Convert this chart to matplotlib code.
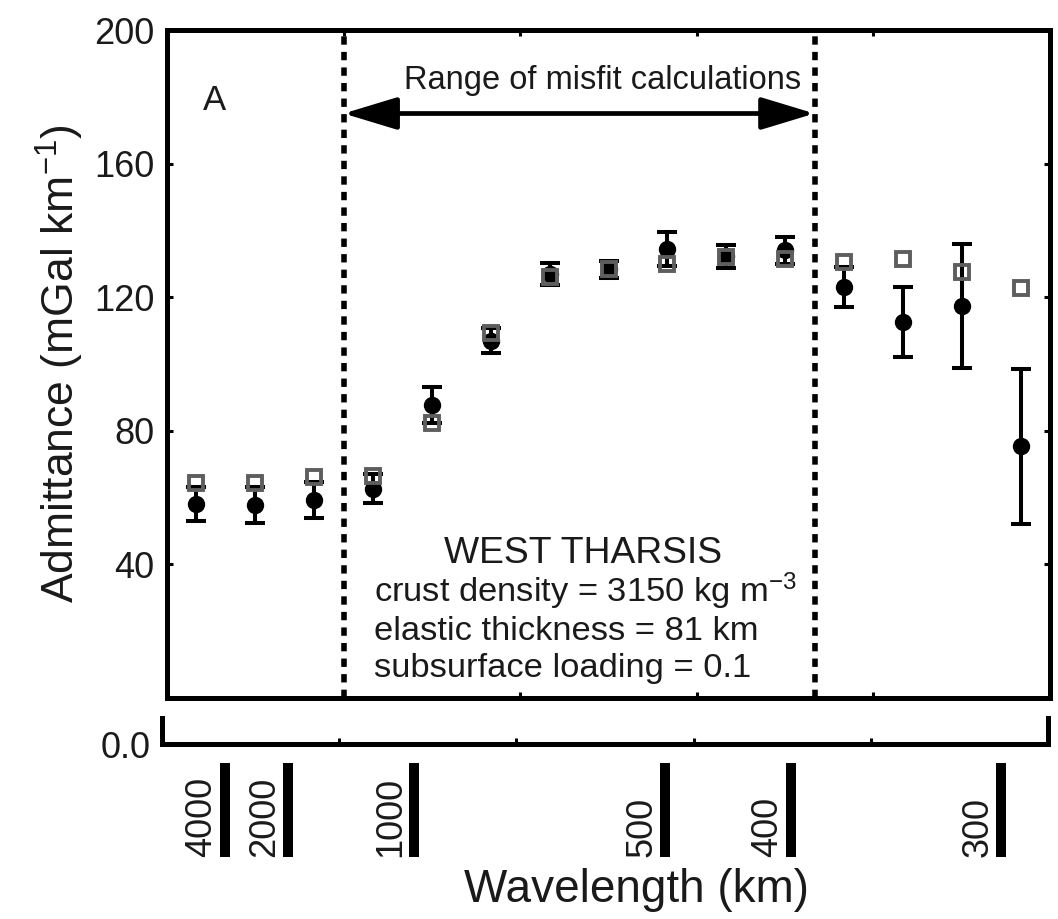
import matplotlib
matplotlib.use("Agg")
import matplotlib.pyplot as plt

plt.rcParams['font.family'] = ['Liberation Sans', 'DejaVu Sans']
plt.rcParams['mathtext.fontset'] = 'custom'
plt.rcParams['mathtext.rm'] = 'Liberation Sans'
plt.rcParams['mathtext.it'] = 'Liberation Sans'
plt.rcParams['mathtext.default'] = 'regular'

# Spherical harmonic degree of each admittance estimate
degree = [2.5, 7.5, 12.5, 17.5, 22.5, 27.5, 32.5, 37.5,
          42.5, 47.5, 52.5, 57.5, 62.5, 67.5, 72.5]
# Observed admittance (mGal/km) and 1-sigma uncertainty
observed = [58.1, 57.8, 59.3, 62.7, 87.7, 107.0, 127.0, 128.3,
            134.4, 132.2, 134.0, 123.0, 112.6, 117.4, 75.4]
observed_err = [5.2, 5.4, 5.4, 4.3, 5.4, 3.7, 3.2, 2.5,
                5.0, 3.4, 4.0, 6.0, 10.5, 18.5, 23.2]
# Best-fitting model admittance
model = [64.4, 64.4, 66.2, 66.5, 82.3, 109.4, 126.0, 128.3,
         130.0, 132.0, 131.4, 130.5, 131.4, 127.5, 122.8]

misfit_range = [15, 55]
wavelengths_km = [4000, 2000, 1000, 500, 400, 300]
mars_circumference_km = 21300.0

y_ticks = [40, 80, 120, 160, 200]
x_ticks = [15, 30, 45, 60]

TXT = '#1a1a1a'
W, H = 1058, 919
fig = plt.figure(figsize=(W / 100, H / 100), dpi=100)

# ---- main admittance panel ----
ax = fig.add_axes([167 / W, 1 - 698 / H, (1050 - 167) / W, (698 - 30) / H])
ax.set_xlim(0, 75)
ax.set_ylim(0, 200)
for s in ax.spines.values():
    s.set_linewidth(3.6)
ax.set_xticks(x_ticks)
ax.set_xticklabels([])
ax.set_yticks(y_ticks)
ax.tick_params(direction='in', length=4.5, width=2.2, top=True, right=True,
               labelsize=26, labelcolor=TXT, pad=9)
ax.set_ylabel(r'Admittance (mGal km$^{-1}$)', fontsize=32, color=TXT, labelpad=6)

for xv in misfit_range:
    ax.axvline(xv, color='black', lw=4.0, linestyle=(0, (1.5, 1.3)), zorder=2)

ax.errorbar(degree, observed, yerr=observed_err, fmt='o', color='black',
            ms=11.5, elinewidth=2.9, capsize=7, capthick=2.9, zorder=3)
ax.plot(degree, model, linestyle='none', marker='s', ms=10, mfc='none',
        mec='#5e5e5e', mew=2.8, zorder=4)

ax.annotate('', xy=(misfit_range[0], 175), xytext=(misfit_range[1], 175),
            arrowprops=dict(arrowstyle='<|-|>,head_length=1.65,head_width=0.5',
                            mutation_scale=20, lw=3.4, color='black',
                            shrinkA=0, shrinkB=0))
ax.text(37.0, 185, 'Range of misfit calculations', ha='center', va='center',
        fontsize=23.5, color=TXT)
ax.text(4.0, 179, 'A', ha='center', va='center', fontsize=25, color=TXT)

ax.text(35.3, 43.4, 'WEST THARSIS', ha='center', va='center',
        fontsize=26.8, color=TXT)
ax.text(17.6, 32.0, r'crust density = 3150 kg m$^{-3}$', ha='left',
        va='center', fontsize=24.8, color=TXT)
ax.text(17.6, 20.0, 'elastic thickness = 81 km', ha='left', va='center',
        fontsize=24.8, color=TXT)
ax.text(17.6, 8.9, 'subsurface loading = 0.1', ha='left', va='center',
        fontsize=24.8, color=TXT)

# ---- bracket strip under the panel ----
axb = fig.add_axes([162 / W, 1 - 744 / H, (1048 - 162) / W, (744 - 718) / H])
axb.set_xlim(0, 75)
axb.set_ylim(0, 1)
axb.spines['top'].set_visible(False)
for k in ('left', 'right', 'bottom'):
    axb.spines[k].set_linewidth(3.6)
axb.set_xticks(x_ticks)
axb.set_xticklabels([])
axb.set_yticks([0])
axb.set_yticklabels(['0.0'])
axb.tick_params(axis='x', direction='in', length=4.5, width=2.2)
axb.tick_params(axis='y', length=0, labelsize=26, labelcolor=TXT, pad=8)

# ---- wavelength scale ----
axw = fig.add_axes([162 / W, 1 - 857 / H, (1048 - 162) / W, (857 - 763) / H])
axw.set_xlim(0, 75)
axw.set_ylim(0, 1)
axw.axis('off')
for lam in wavelengths_km:
    xpos = mars_circumference_km / lam
    axw.vlines(xpos, 0, 1, color='black', lw=7.2)
    axw.annotate(str(lam), xy=(xpos, 0), xytext=(-4, 0),
                 textcoords='offset points', rotation=90, ha='right',
                 va='bottom', fontsize=26, color=TXT)

fig.text(637 / W, 1 - 890 / H, 'Wavelength (km)', ha='center', va='center',
         fontsize=33, color=TXT)

fig.savefig('out.png', dpi=100)
